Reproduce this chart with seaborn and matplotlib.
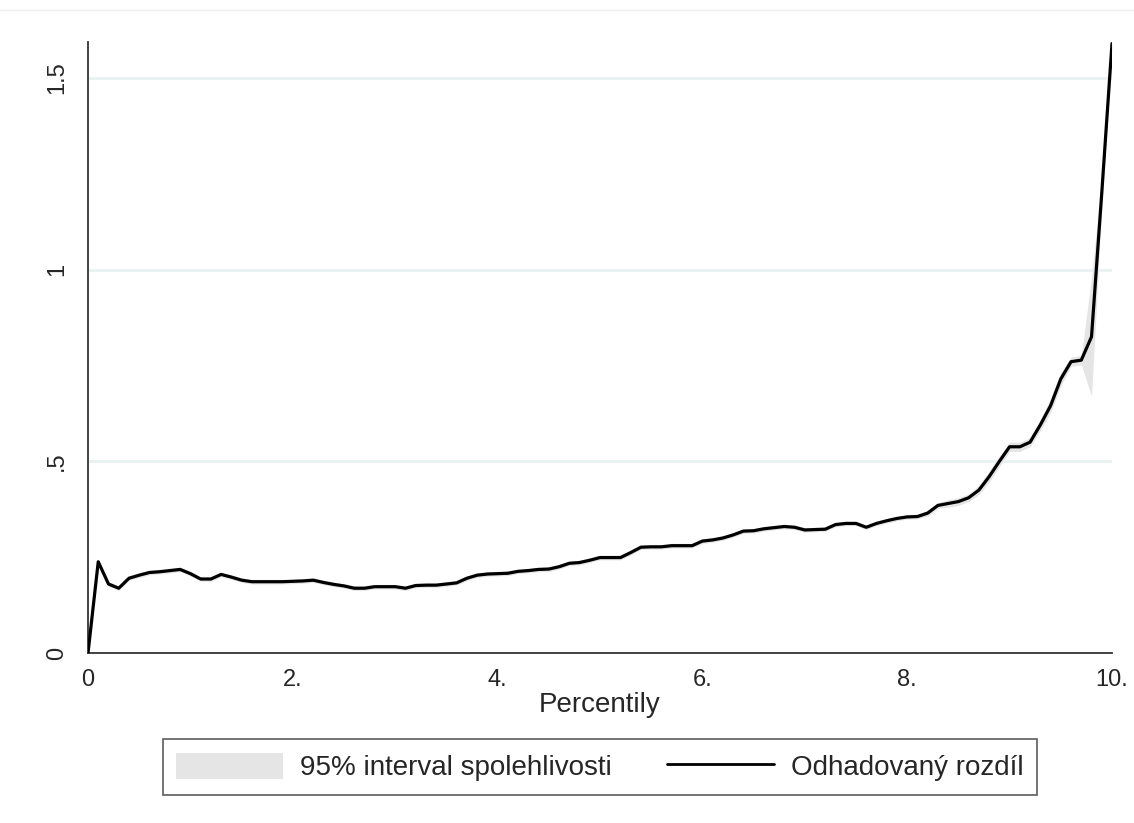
import numpy as np
import pandas as pd
import seaborn as sns
import matplotlib.pyplot as plt
from matplotlib.patches import Patch
from matplotlib.lines import Line2D

# percentiles rescaled to 0-10, step 0.1
pct = [round(i * 0.1, 1) for i in range(101)]

# estimated difference
estimate = [
    0.000, 0.238, 0.180, 0.169, 0.195, 0.203, 0.210, 0.212, 0.215, 0.218,
    0.207, 0.193, 0.193, 0.205, 0.198, 0.190, 0.186, 0.186, 0.186, 0.186,
    0.187, 0.188, 0.190, 0.184, 0.179, 0.175, 0.169, 0.169, 0.173, 0.173,
    0.173, 0.169, 0.176, 0.177, 0.177, 0.180, 0.183, 0.195, 0.203, 0.206,
    0.207, 0.208, 0.213, 0.215, 0.218, 0.219, 0.225, 0.234, 0.236, 0.242,
    0.249, 0.249, 0.249, 0.262, 0.276, 0.277, 0.277, 0.280, 0.280, 0.280,
    0.292, 0.295, 0.300, 0.308, 0.318, 0.319, 0.324, 0.327, 0.330, 0.328,
    0.321, 0.322, 0.323, 0.335, 0.338, 0.338, 0.328, 0.338, 0.345, 0.351,
    0.355, 0.356, 0.365, 0.385, 0.390, 0.395, 0.405, 0.425, 0.460, 0.500,
    0.538, 0.538, 0.550, 0.595, 0.645, 0.715, 0.760, 0.764, 0.825, 1.200,
    1.590,
]

# half width of the 95% band (0 at the start, narrow until ~8.1, wide at 9.8)
ci_half = [0.0] + [0.006] * 81 + [
    0.008, 0.008, 0.010, 0.010, 0.010, 0.012, 0.014, 0.014, 0.012, 0.012,
    0.012, 0.015, 0.018, 0.018, 0.012, 0.012, 0.155, 0.040, 0.010,
]

x_ticks = [0, 2, 4, 6, 8, 10]
x_ticklabels = ["0", "2.", "4.", "6.", "8.", "10."]
y_ticks = [0, 0.5, 1, 1.5]
y_ticklabels = ["0", ".5", "1", "1.5"]

df = pd.DataFrame({"pct": pct, "est": estimate, "half": ci_half})
df["lo"] = df["est"] - df["half"]
df["hi"] = df["est"] + df["half"]

sns.set_style("white")
plt.rcParams["font.family"] = ["Liberation Sans", "DejaVu Sans"]

fig = plt.figure(figsize=(11.34, 8.23), dpi=100)
ax = fig.add_axes([88 / 1134, 1 - 653 / 823, 1024 / 1134, (653 - 42) / 823])

band_col = "#e5e5e5"
ax.fill_between(df["pct"], df["lo"], df["hi"], color=band_col, lw=0, zorder=2)
sns.lineplot(data=df, x="pct", y="est", color="black", lw=2.3, ax=ax, zorder=3)

ax.set_xlim(0, 10)
ax.set_ylim(0, 1.594)
for y in y_ticks[1:]:
    ax.axhline(y, color="#eaf1f2", lw=2, zorder=1)

ax.set_xticks(x_ticks)
ax.set_xticklabels(x_ticklabels)
ax.set_yticks(y_ticks)
ax.set_yticklabels(y_ticklabels, rotation=90, va="center")
ax.tick_params(axis="both", direction="out", length=7.5, width=1.2,
               color="#333333", labelsize=17, pad=4)
ax.tick_params(axis="y", pad=7)
ax.set_xlabel("Percentily", fontsize=20, labelpad=1)
ax.set_ylabel("")

for s in ["top", "right"]:
    ax.spines[s].set_visible(False)
for s in ["left", "bottom"]:
    ax.spines[s].set_color("#333333")
    ax.spines[s].set_linewidth(1.3)

# faint border line at the top of the graph region
fig.add_artist(Line2D([0, 1], [1 - 10 / 823] * 2, color="#eeeeee", lw=1))

handles = [Patch(facecolor=band_col, edgecolor="none"),
           Line2D([], [], color="black", lw=2)]
labels = ["95% interval spolehlivosti", "Odhadovaný rozdíl"]
leg = fig.legend(handles, labels, loc="center", bbox_to_anchor=(600 / 1134, 1 - 767 / 823),
                 ncol=2, fontsize=20, frameon=True, fancybox=False,
                 handlelength=3.85, handleheight=1.05, handletextpad=0.6,
                 columnspacing=2.0, borderpad=0.5, borderaxespad=0)
leg.get_frame().set_edgecolor("#333333")
leg.get_frame().set_linewidth(1.2)

fig.savefig("out.png", dpi=100)
